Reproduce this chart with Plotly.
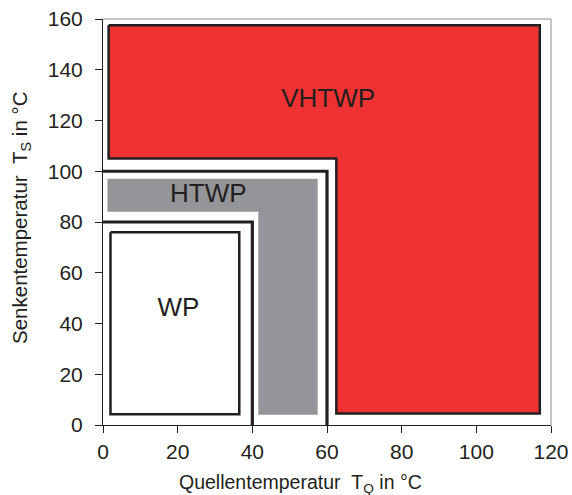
import plotly.graph_objects as go

# --- data (°C) ---
vhtwp_x = [1.5, 117, 117, 62.5, 62.5, 1.5]
vhtwp_y = [157.5, 157.5, 4.5, 4.5, 105, 105]

htwp_x = [1.2, 57.5, 57.5, 41.6, 41.6, 1.2]
htwp_y = [97, 97, 4, 4, 84, 84]

wp_x = [2, 36.5, 36.5, 2]
wp_y = [76, 76, 4.2, 4.2]

wp_limit_x = [0, 40, 40]
wp_limit_y = [80, 80, 0]
htwp_limit_x = [0, 60, 60]
htwp_limit_y = [100, 100, 0]

labels = ["VHTWP", "HTWP", "WP"]
label_x = [60.3, 28.2, 20.2]
label_y = [128, 90.5, 45.4]

x_ticks = [0, 20, 40, 60, 80, 100, 120]
y_ticks = [0, 20, 40, 60, 80, 100, 120, 140, 160]

x_title = "Quellentemperatur\u00a0\u00a0T<sub>Q</sub> in °C"
y_title = "Senkentemperatur\u00a0\u00a0T<sub>S</sub> in °C"

FONT = "Liberation Sans, Arial, sans-serif"
TXT = "#231f20"


def closed(v):
    return list(v) + [v[0]]


fig = go.Figure()
fig.add_trace(go.Scatter(x=closed(vhtwp_x), y=closed(vhtwp_y), fill="toself", fillcolor="#ee3231",
                         mode="lines", line=dict(color=TXT, width=2.5), hoverinfo="skip"))
fig.add_trace(go.Scatter(x=closed(htwp_x), y=closed(htwp_y), fill="toself", fillcolor="#939598",
                         mode="lines", line=dict(color="#939598", width=0), hoverinfo="skip"))
fig.add_trace(go.Scatter(x=closed(wp_x), y=closed(wp_y), fill="toself", fillcolor="white",
                         mode="lines", line=dict(color=TXT, width=2.5), hoverinfo="skip"))
fig.add_trace(go.Scatter(x=wp_limit_x, y=wp_limit_y, mode="lines",
                         line=dict(color=TXT, width=3.2), hoverinfo="skip"))
fig.add_trace(go.Scatter(x=htwp_limit_x, y=htwp_limit_y, mode="lines",
                         line=dict(color=TXT, width=3.2), hoverinfo="skip"))
fig.add_trace(go.Scatter(x=label_x, y=label_y, text=labels, mode="text",
                         textfont=dict(family=FONT, size=26, color=TXT), hoverinfo="skip"))

# top/right frame lines (lighter)
fig.add_shape(type="line", xref="paper", yref="paper", x0=0, x1=1, y0=1, y1=1,
              line=dict(color="#8a8a8a", width=1))
fig.add_shape(type="line", xref="paper", yref="paper", x0=1, x1=1, y0=0, y1=1,
              line=dict(color="#8a8a8a", width=1))

# axis titles as annotations (for exact placement)
fig.add_annotation(text=x_title, xref="paper", yref="paper", x=(300 - 103) / 448, y=0,
                   xanchor="center", yanchor="middle", yshift=-58, showarrow=False,
                   font=dict(size=19.5, family=FONT, color=TXT))
fig.add_annotation(text=y_title, xref="paper", yref="paper", x=0, y=(425 - 218) / 406,
                   xanchor="center", yanchor="middle", xshift=-82, textangle=-90,
                   showarrow=False, font=dict(size=20.5, family=FONT, color=TXT))

fig.update_layout(
    width=572, height=495,
    margin=dict(l=103, r=21, t=19, b=70),
    paper_bgcolor="white", plot_bgcolor="white",
    showlegend=False,
    font=dict(family=FONT, color=TXT),
)
fig.update_xaxes(
    range=[0, 120], tickvals=x_ticks, ticks="outside", ticklen=7, tickcolor=TXT,
    showline=True, linecolor=TXT, linewidth=1, showgrid=False, zeroline=False,
    automargin=False, ticklabelstandoff=1,
    tickfont=dict(size=21, family=FONT, color=TXT),
)
fig.update_yaxes(
    range=[0, 160], tickvals=y_ticks, ticks="outside", ticklen=7, tickcolor=TXT,
    showline=True, linecolor=TXT, linewidth=1, showgrid=False, zeroline=False,
    automargin=False, ticklabelstandoff=8,
    tickfont=dict(size=21, family=FONT, color=TXT),
)

fig.write_html("out.html", config={"displayModeBar": False},
               post_script="document.body.style.margin='0';")
